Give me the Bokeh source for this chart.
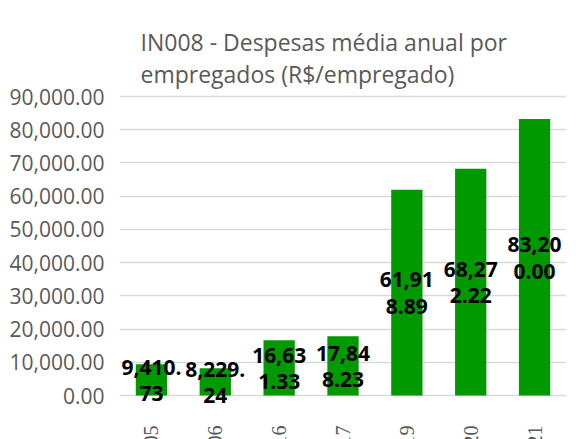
import math
from bokeh.plotting import figure
from bokeh.models import (FixedTicker, NumeralTickFormatter, Range1d, FactorRange,
                          ColumnDataSource, LabelSet)
from bokeh.core.properties import value
from bokeh.embed import file_html
from bokeh.resources import INLINE

# ---- data ----
years = ["2005", "2006", "2016", "2017", "2019", "2020", "2021"]
despesas = [9410.73, 8229.24, 16631.33, 17848.23, 61918.89, 68272.22, 83200.00]
y_ticks = [0, 10000, 20000, 30000, 40000, 50000, 60000, 70000, 80000, 90000]
title_text = "IN008 - Despesas média anual por\nempregados (R$/empregado)"


def wrap_label(v):
    s = f"{v:,.2f}"
    cut = 6 if v < 10000 else 5
    return s[:cut] + "\n" + s[cut:]


labels = [wrap_label(v) for v in despesas]
half = [v / 2 for v in despesas]

# layout: 90,000 -> y 96, 0 -> y 395; plot frame spans y 89..439
px_per_unit = (395 - 96) / 90000.0
y_start = -(439 - 395) / px_per_unit
y_end = (395 - 89) / px_per_unit

p = figure(
    width=585, height=439,
    x_range=FactorRange(*years), y_range=Range1d(y_start, y_end),
    output_backend="svg", toolbar_location=None,
    x_axis_location=None,
    min_border_left=119, min_border_right=19,
    min_border_top=89, min_border_bottom=0,
    background_fill_color="white", border_fill_color="white",
)
p.outline_line_color = None

p.title.text = title_text
p.title.text_font = "Open Sans"
p.title.text_font_size = "23px"
p.title.text_font_style = "normal"
p.title.text_color = "#595959"
p.title.align = "left"
p.title.offset = 21
p.title.standoff = 0
p.title.text_line_height = 1.0

yax = p.yaxis[0]
yax.ticker = FixedTicker(ticks=y_ticks)
yax.formatter = NumeralTickFormatter(format="0,0.00")
yax.axis_line_color = None
yax.major_tick_line_color = None
yax.minor_tick_line_color = None
yax.major_label_text_font = "Open Sans"
yax.major_label_text_font_size = "21px"
yax.major_label_text_color = "#595959"
yax.major_label_standoff = 9

p.xgrid.grid_line_color = None
p.ygrid.ticker = FixedTicker(ticks=y_ticks)
p.ygrid.grid_line_color = "#d9d9d9"
p.ygrid.grid_line_width = 1.3

p.vbar(x=years, top=despesas, width=0.49, fill_color="#009900", line_color=None)

p.text(x=years, y=half, text=labels,
       text_font=value("Open Sans"), text_font_style="bold",
       text_font_size="21px", text_color="black",
       text_align="center", text_baseline="middle", text_line_height=0.95)

# category labels (run off the bottom edge, as in the reference)
cat_src = ColumnDataSource(dict(x=years, y=[0] * len(years), t=years))
p.add_layout(LabelSet(x="x", y="y", text="t", source=cat_src, angle=math.pi / 2,
                      text_font="Open Sans", text_font_size="20px", text_color="#595959",
                      text_align="right", text_baseline="middle", y_offset=-30))

open("out.html", "w").write(file_html(p, INLINE))
